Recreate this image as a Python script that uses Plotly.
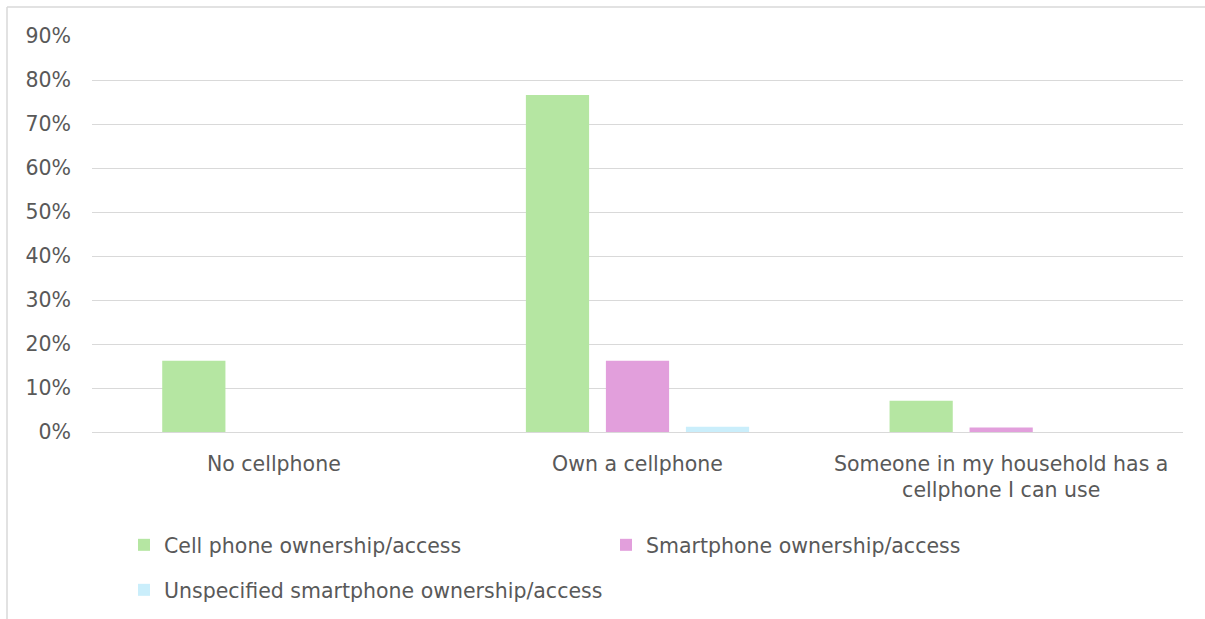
import plotly.graph_objects as go

# Survey categories and shares of respondents per measure
categories = [
    "No cellphone",
    "Own a cellphone",
    "Someone in my household has a<br>cellphone I can use",
]
cell_phone = [0.162, 0.766, 0.071]
smartphone = [0.0, 0.162, 0.010]
unspecified = [0.0, 0.012, 0.0]

series_names = [
    "Cell phone ownership/access",
    "Smartphone ownership/access",
    "Unspecified smartphone ownership/access",
]
series_colors = ["#B5E6A2", "#E29FDC", "#CAEEFB"]

tick_vals = [0, 0.1, 0.2, 0.3, 0.4, 0.5, 0.6, 0.7, 0.8, 0.9]
tick_text = ["0%", "10%", "20%", "30%", "40%", "50%", "60%", "70%", "80%", "90%"]

FONT = "DejaVu Sans"
FSIZE = 20.5
TEXT = "#595959"

fig = go.Figure()
for name, vals, color, leg in zip(series_names, [cell_phone, smartphone, unspecified],
                                  series_colors, ["legend", "legend", "legend2"]):
    fig.add_trace(go.Bar(
        x=categories, y=vals, name=name,
        marker=dict(color=color, line=dict(width=0)),
        legend=leg,
    ))

W, H = 1205, 619
ml, mr, mt, mb = 92, 22, 36, 187
pw, ph = W - ml - mr, H - mt - mb

def px_x(x):
    return (x - ml) / pw

def px_y(y):
    return (H - mb - y) / ph

fig.update_layout(
    width=W, height=H,
    margin=dict(l=ml, r=mr, t=mt, b=mb, autoexpand=False),
    paper_bgcolor="white", plot_bgcolor="white",
    font=dict(family=FONT, size=FSIZE, color=TEXT),
    barmode="group",
    bargap=0.34,
    bargroupgap=0.21,
    showlegend=True,
    legend=dict(
        orientation="h",
        x=px_x(124), y=px_y(525), xanchor="left", yanchor="top",
        entrywidth=437, entrywidthmode="pixels",
        font=dict(family=FONT, size=FSIZE, color=TEXT),
        bgcolor="rgba(0,0,0,0)",
    ),
    legend2=dict(
        orientation="h",
        x=px_x(124), y=px_y(570), xanchor="left", yanchor="top",
        font=dict(family=FONT, size=FSIZE, color=TEXT),
        bgcolor="rgba(0,0,0,0)",
    ),
    xaxis=dict(
        showgrid=False, showline=False, ticks="",
        tickfont=dict(family=FONT, size=FSIZE, color=TEXT),
        ticklabelstandoff=17, automargin=False,
    ),
    yaxis=dict(
        range=[0, 0.9],
        tickvals=tick_vals, ticktext=tick_text,
        showgrid=True, gridcolor="#D9D9D9", gridwidth=1,
        zeroline=True, zerolinecolor="#D9D9D9", zerolinewidth=1,
        showline=False, ticks="",
        tickfont=dict(family=FONT, size=FSIZE, color=TEXT),
        ticklabelstandoff=20, automargin=False,
    ),
    shapes=[
        # outer chart frame (top and left edges visible)
        dict(type="line", xref="paper", yref="paper",
             x0=px_x(7), x1=px_x(W + 5), y0=px_y(7), y1=px_y(7),
             line=dict(color="#D9D9D9", width=1.5)),
        dict(type="line", xref="paper", yref="paper",
             x0=px_x(7), x1=px_x(7), y0=px_y(7), y1=px_y(H + 5),
             line=dict(color="#D9D9D9", width=1.5)),
    ],
)

fig.write_html("out.html")
